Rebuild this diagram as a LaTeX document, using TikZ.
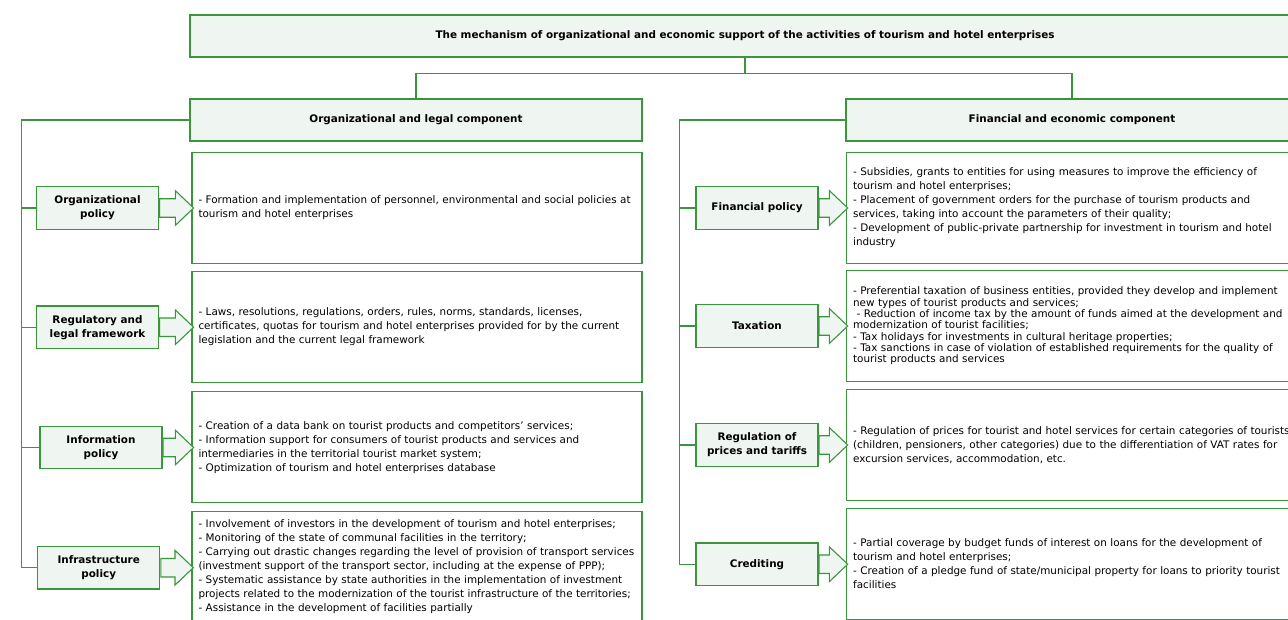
\documentclass[tikz,border=0pt]{standalone}
\usepackage{fontspec}
\setmainfont{DejaVu Sans}
\usetikzlibrary{shapes.arrows}
\definecolor{boxgreen}{RGB}{58,150,58}
\definecolor{boxfill}{RGB}{239,245,240}
\tikzset{
  headbox/.style={draw=boxgreen,fill=boxfill,minimum height=42pt,inner sep=0pt,
    font=\bfseries\fontsize{10.4}{13}\selectfont},
  lblbox/.style={draw=boxgreen,fill=boxfill,minimum width=122pt,minimum height=42.5pt,
    inner sep=0pt,align=center,font=\bfseries\fontsize{10.4}{14}\selectfont},
  detbox/.style={draw=boxgreen,fill=white,minimum width=450pt,minimum height=111pt,
    text width=437pt,inner xsep=6.5pt,inner ysep=0pt,align=left,
    font=\fontsize{10.4}{14}\selectfont},
  fatarrow/.style={single arrow,draw=boxgreen,fill=boxfill,inner xsep=0pt,inner ysep=8.7pt,
    single arrow head extend=8.1pt,single arrow tip angle=87,
    anchor=tail,minimum height=#1},
  tree/.style={draw=boxgreen}
}

\begin{document}
\begin{tikzpicture}[x=1pt,y=-1pt,line width=1.1pt]
\useasboundingbox (0,0) rectangle (1288,619);
\clip (0,0) rectangle (1288,619);

% heads
\node[headbox,minimum width=1110pt] (mech) at (745,36)
  {The mechanism of organizational and economic support of the activities of tourism and hotel enterprises};
\node[headbox,minimum width=452pt] (orgcomp) at (416,120) {Organizational and legal component};
\node[headbox,minimum width=452pt] (fincomp) at (1072,120) {Financial and economic component};
\draw[tree] (mech.south) -- ++(0,16) -| (orgcomp.north);
\draw[tree] (mech.south) -- ++(0,16) -| (fincomp.north);

% organizational and legal component
\node[detbox] (od1) at (417,207.8) {- Formation and implementation of personnel, environmental and social policies at\\
tourism and hotel enterprises};
\node[detbox] (od2) at (417,326.8) {- Laws, resolutions, regulations, orders, rules, norms, standards, licenses,\\
certificates, quotas for tourism and hotel enterprises provided for by the current\\
legislation and the current legal framework};
\node[detbox] (od3) at (417,447.2) {- Creation of a data bank on tourist products and competitors’ services;\\
- Information support for consumers of tourist products and services and\\
intermediaries in the territorial tourist market system;\\
- Optimization of tourism and hotel enterprises database};
\node[detbox] (od4) at (417,567) {- Involvement of investors in the development of tourism and hotel enterprises;\\
- Monitoring of the state of communal facilities in the territory;\\
- Carrying out drastic changes regarding the level of provision of transport services\\
(investment support of the transport sector, including at the expense of PPP);\\
- Systematic assistance by state authorities in the implementation of investment\\
projects related to the modernization of the tourist infrastructure of the territories;\\
- Assistance in the development of facilities partially};

\node[lblbox] (ol1) at (97.5,208) {Organizational\\policy};
\node[lblbox] (ol2) at (97.5,327.2) {Regulatory and\\legal framework};
\node[lblbox] (ol3) at (101,447.5) {Information\\policy};
\node[lblbox] (ol4) at (98.7,567.7) {Infrastructure\\policy};

\node[fatarrow=34pt] at (ol1.east) {};
\node[fatarrow=34pt] at (ol2.east) {};
\node[fatarrow=30.5pt] at (ol3.east) {};
\node[fatarrow=32.5pt] at (ol4.east) {};

\coordinate (otrunk) at (21.5,0);
\draw[tree] (orgcomp.west) -| (ol4.west -| otrunk) -- (ol4.west);
\foreach \n in {ol1,ol2,ol3}
  \draw[tree] (\n.west) -- (\n.west -| otrunk);

% financial and economic component
\node[detbox] (fd1) at (1071.6,207.8) {- Subsidies, grants to entities for using measures to improve the efficiency of\\
tourism and hotel enterprises;\\
- Placement of government orders for the purchase of tourism products and\\
services, taking into account the parameters of their quality;\\
- Development of public-private partnership for investment in tourism and hotel\\
industry};
\node[detbox,font=\fontsize{10.4}{11.3}\selectfont] (fd2) at (1071.6,325.9) {- Preferential taxation of business entities, provided they develop and implement\\
new types of tourist products and services;\\
\ - Reduction of income tax by the amount of funds aimed at the development and\\
modernization of tourist facilities;\\
- Tax holidays for investments in cultural heritage properties;\\
- Tax sanctions in case of violation of established requirements for the quality of\\
tourist products and services};
\node[detbox] (fd3) at (1071.6,445) {- Regulation of prices for tourist and hotel services for certain categories of tourists\\
(children, pensioners, other categories) due to the differentiation of VAT rates for\\
excursion services, accommodation, etc.};
\node[detbox] (fd4) at (1071.6,563.9) {- Partial coverage by budget funds of interest on loans for the development of\\
tourism and hotel enterprises;\\
- Creation of a pledge fund of state/municipal property for loans to priority tourist\\
facilities};

\node[lblbox] (fl1) at (757,208) {Financial policy};
\node[lblbox] (fl2) at (757,326) {Taxation};
\node[lblbox] (fl3) at (757,445) {Regulation of\\prices and tariffs};
\node[lblbox] (fl4) at (757,564.2) {Crediting};

\foreach \n in {fl1,fl2,fl3,fl4}
  \node[fatarrow=28.6pt] at (\n.east) {};

\coordinate (ftrunk) at (679.4,0);
\draw[tree] (fincomp.west) -| (fl4.west -| ftrunk) -- (fl4.west);
\foreach \n in {fl1,fl2,fl3}
  \draw[tree] (\n.west) -- (\n.west -| ftrunk);
\end{tikzpicture}
\end{document}
